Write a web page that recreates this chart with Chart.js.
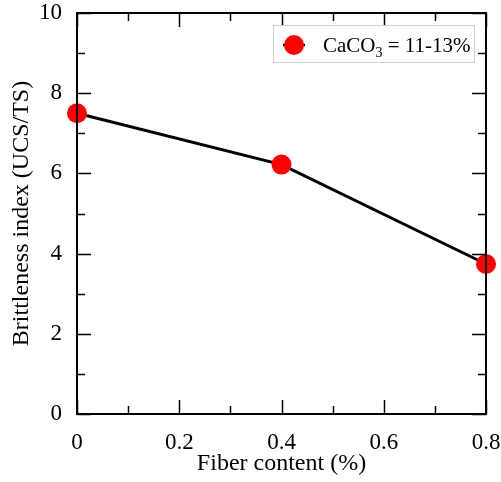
<!DOCTYPE html>
<html>
<head>
<meta charset="utf-8">
<script src="https://cdn.jsdelivr.net/npm/chart.js@4.4.0/dist/chart.umd.min.js"></script>
<style>
    html, body { margin: 0; padding: 0; background: #fff; }
    #wrap { width: 501px; height: 482px; }
</style>
</head>
<body>
<div id="wrap"><canvas id="chart" width="501" height="482"></canvas></div>
<script>
// data
const fiberContent = [0, 0.4, 0.8];
const brittleness = [7.5, 6.22, 3.74];
const seriesLabel = "CaCO3 = 11-13%";

// axis ticks
const xMajorTicks = [0, 0.2, 0.4, 0.6, 0.8];
const xMinorTicks = [0.1, 0.3, 0.5, 0.7];
const yMajorTicks = [0, 2, 4, 6, 8, 10];
const yMinorTicks = [1, 3, 5, 7, 9];

const FONT = "'Liberation Serif', 'Times New Roman', serif";

// frame box + inward ticks on all four sides, like the original plot
const frameTicks = {
    id: "frameTicks",
    afterDraw(chart) {
        const { ctx, chartArea: a, scales } = chart;
        ctx.save();
        ctx.strokeStyle = "#000";
        ctx.lineWidth = 2;
        ctx.strokeRect(a.left, a.top, a.right - a.left, a.bottom - a.top);
        ctx.lineWidth = 1.5;
        const major = 14, minor = 8;
        ctx.beginPath();
        const xt = (v, len) => {
            const px = Math.round(scales.x.getPixelForValue(v)) + 0.5;
            ctx.moveTo(px, a.bottom); ctx.lineTo(px, a.bottom - len);
            ctx.moveTo(px, a.top); ctx.lineTo(px, a.top + len);
        };
        const yt = (v, len) => {
            const py = Math.round(scales.y.getPixelForValue(v)) + 0.5;
            ctx.moveTo(a.left, py); ctx.lineTo(a.left + len, py);
            ctx.moveTo(a.right, py); ctx.lineTo(a.right - len, py);
        };
        xMajorTicks.forEach(v => xt(v, major));
        xMinorTicks.forEach(v => xt(v, minor));
        yMajorTicks.forEach(v => yt(v, major));
        yMinorTicks.forEach(v => yt(v, minor));
        ctx.stroke();
        ctx.restore();
    }
};

// legend with the subscript 3 in CaCO3
const subLegend = {
    id: "subLegend",
    afterDraw(chart) {
        const { ctx } = chart;
        const bx = 273, by = 25, bw = 201, bh = 37;
        ctx.save();
        ctx.fillStyle = "#fff";
        ctx.fillRect(bx, by, bw, bh);
        ctx.strokeStyle = "#d0d0d0";
        ctx.lineWidth = 1;
        ctx.strokeRect(bx + 0.5, by + 0.5, bw, bh);
        const cy = by + 20;
        ctx.strokeStyle = "#000";
        ctx.lineWidth = 2.5;
        ctx.beginPath();
        ctx.moveTo(283, cy); ctx.lineTo(305, cy);
        ctx.stroke();
        ctx.fillStyle = "#ff0000";
        ctx.beginPath();
        ctx.arc(294, cy, 10, 0, Math.PI * 2);
        ctx.fill();
        ctx.fillStyle = "#000";
        ctx.textBaseline = "alphabetic";
        ctx.font = "21px " + FONT;
        let x = 323;
        const base = cy + 7;
        const parts = seriesLabel.match(/^(CaCO)(3)(.*)$/);
        ctx.fillText(parts[1], x, base);
        x += ctx.measureText(parts[1]).width;
        ctx.font = "14px " + FONT;
        ctx.fillText(parts[2], x, base + 5);
        x += ctx.measureText(parts[2]).width;
        ctx.font = "21px " + FONT;
        ctx.fillText(parts[3], x, base);
        ctx.restore();
    }
};

// keep the plot box fixed: no extra room for labels hanging past the ends
function fixBox(s) {
    s.paddingTop = 0; s.paddingBottom = 0;
    s.paddingLeft = 0; s.paddingRight = 0;
}

new Chart(document.getElementById("chart"), {
    type: "line",
    data: {
        datasets: [{
            label: seriesLabel,
            data: fiberContent.map((x, i) => ({ x, y: brittleness[i] })),
            borderColor: "#000",
            borderWidth: 3,
            backgroundColor: "#ff0000",
            pointBackgroundColor: "#ff0000",
            pointBorderWidth: 0,
            pointRadius: 10,
            tension: 0,
            clip: false
        }]
    },
    options: {
        responsive: false,
        animation: false,
        layout: { padding: { left: 0, top: 13, right: 15, bottom: 0 } },
        plugins: { legend: { display: false }, tooltip: { enabled: false } },
        scales: {
            x: {
                type: "linear", min: 0, max: 0.8,
                afterFit: s => { s.height = 68; fixBox(s); },
                afterBuildTicks: s => { s.ticks = xMajorTicks.map(v => ({ value: v })); },
                grid: { display: false, drawTicks: false },
                border: { display: false },
                ticks: { color: "#000", font: { family: FONT, size: 23 }, padding: 15, maxRotation: 0 },
                title: { display: true, text: "Fiber content (%)", color: "#000",
                    font: { family: FONT, size: 24 }, padding: { top: 0, bottom: 4 } }
            },
            y: {
                min: 0, max: 10,
                afterFit: s => { s.width = 77; fixBox(s); },
                afterBuildTicks: s => { s.ticks = yMajorTicks.map(v => ({ value: v })); },
                grid: { display: false, drawTicks: false },
                border: { display: false },
                ticks: { color: "#000", font: { family: FONT, size: 23 }, padding: 15 },
                title: { display: true, text: "Brittleness index (UCS/TS)", color: "#000",
                    font: { family: FONT, size: 24 }, padding: { top: 7, bottom: 0 } }
            }
        }
    },
    plugins: [frameTicks, subLegend]
});
</script>
</body>
</html>
